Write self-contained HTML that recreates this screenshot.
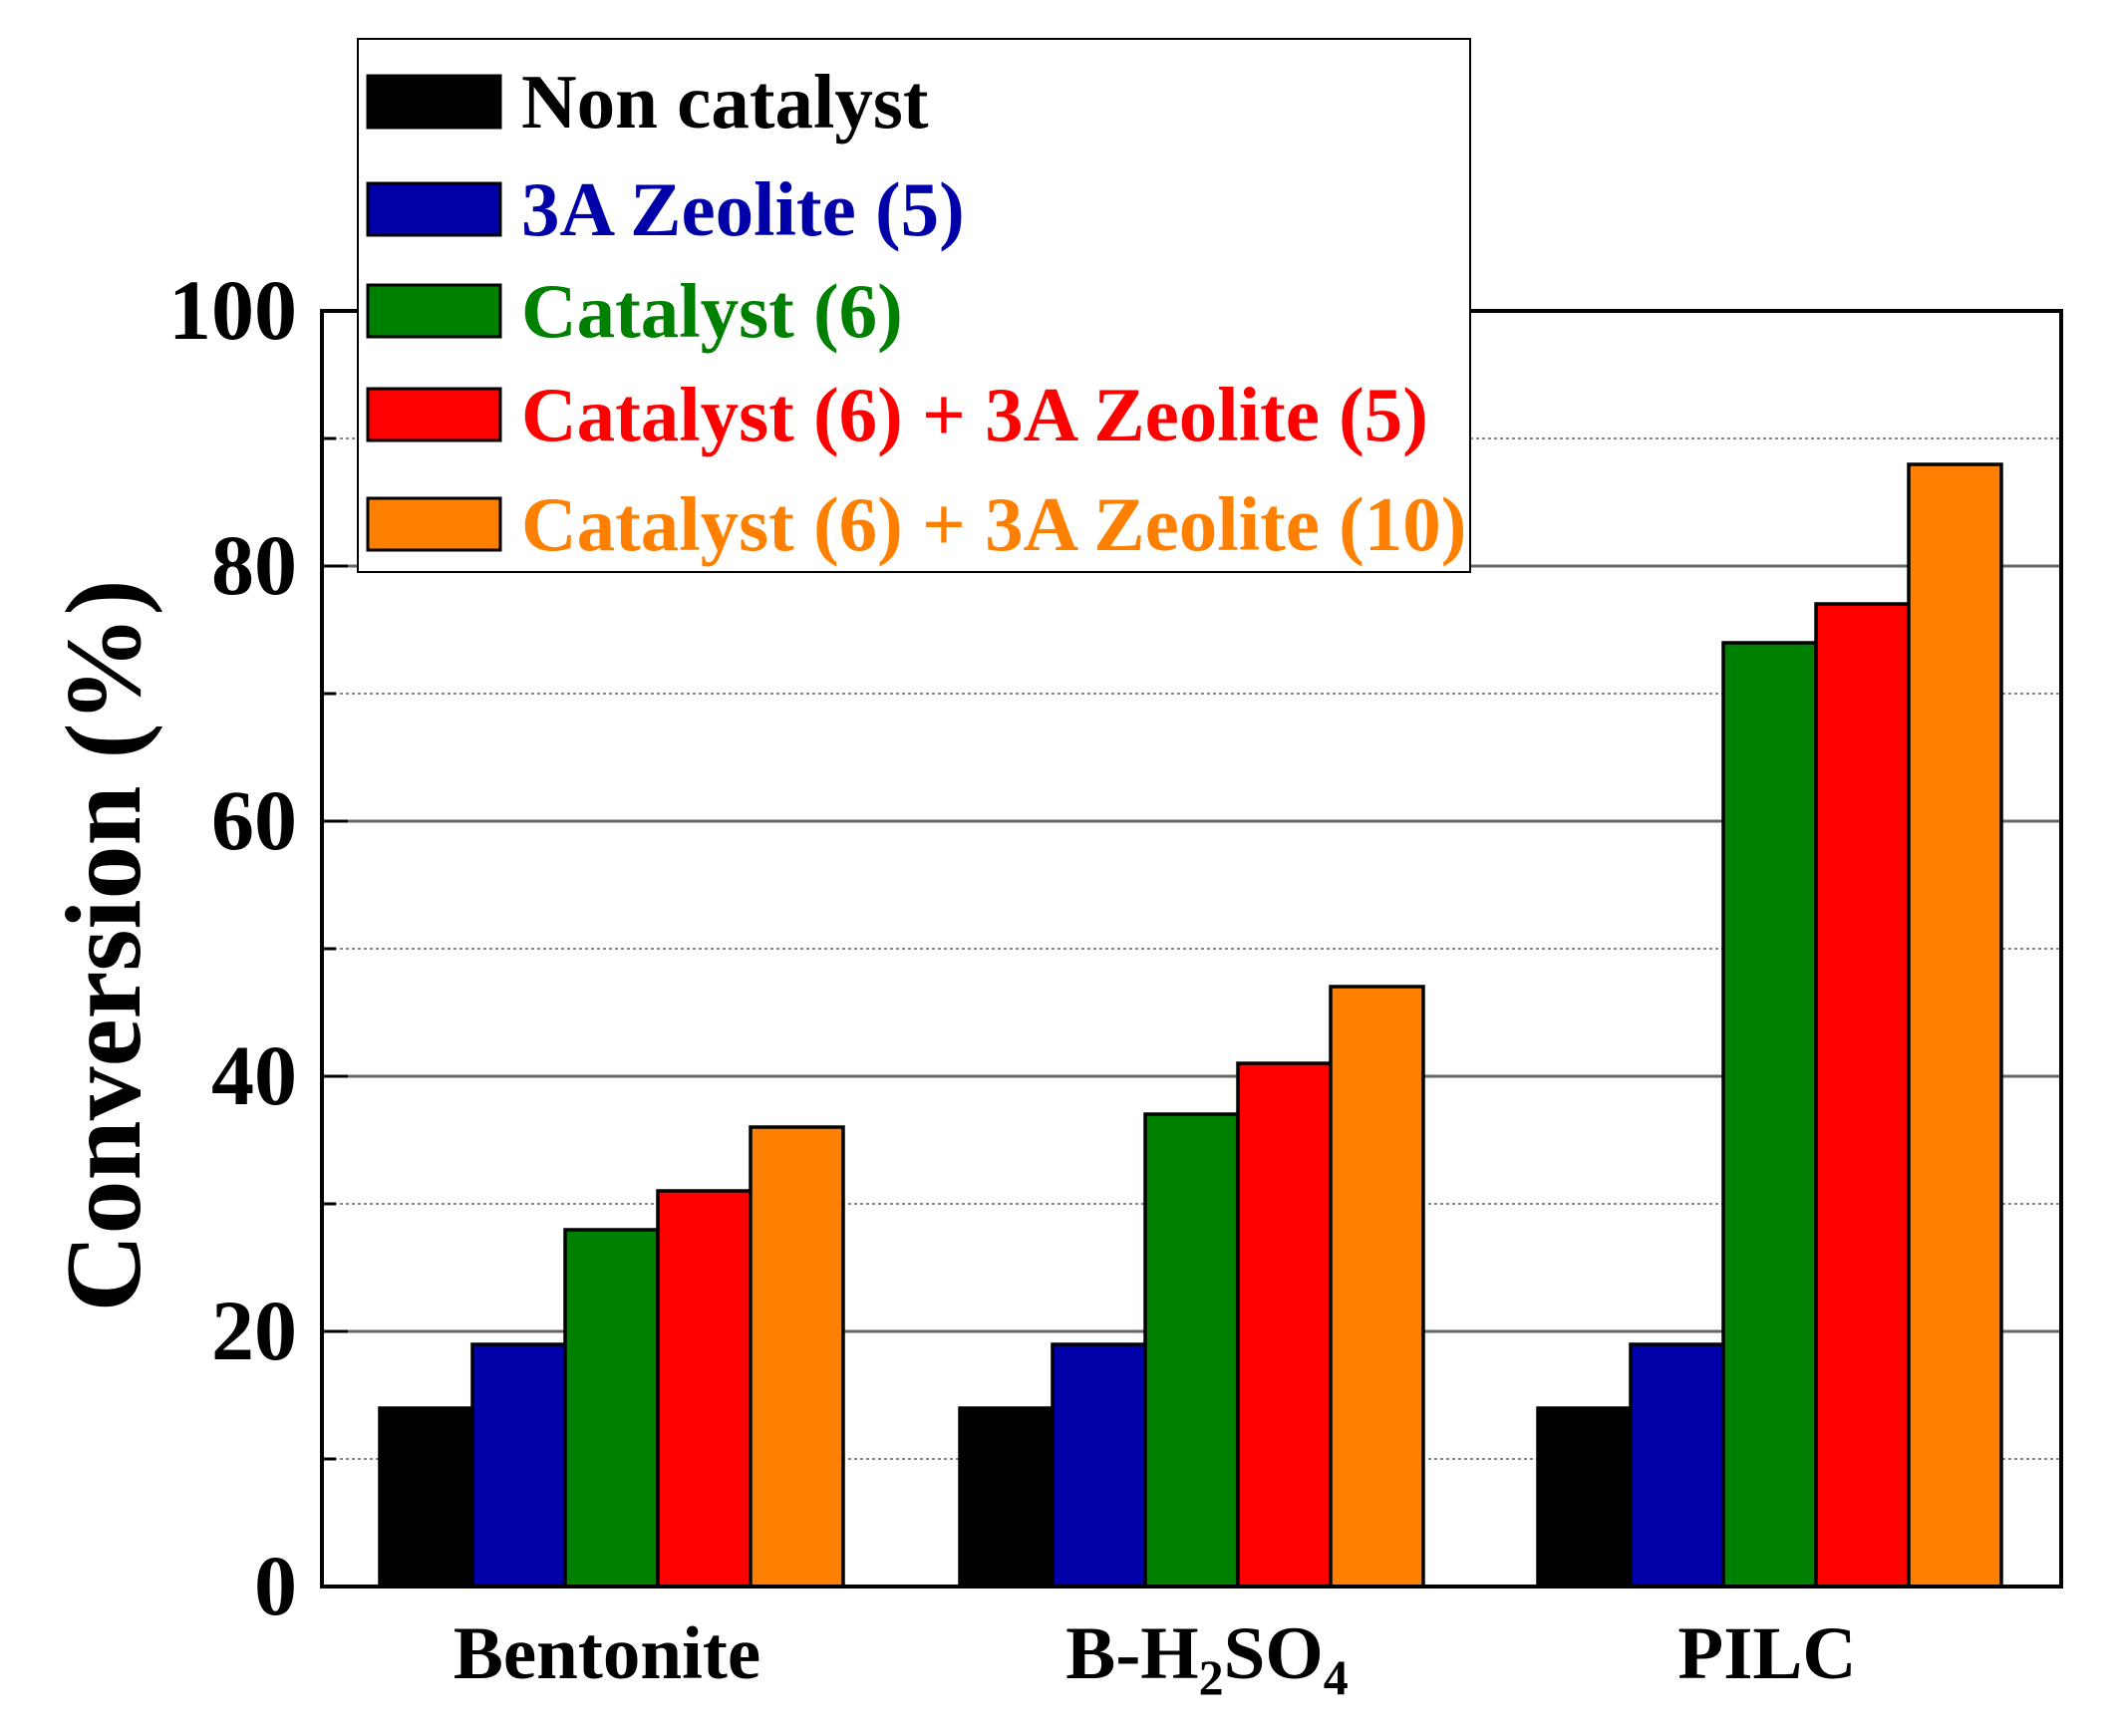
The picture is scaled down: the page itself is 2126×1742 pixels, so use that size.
<!DOCTYPE html>
<html><head><meta charset="utf-8"><style>body{margin:0;background:#fff}</style></head><body>
<svg width="2126" height="1737" xmlns="http://www.w3.org/2000/svg" font-family="Liberation Serif, serif" font-weight="bold">
<rect width="2126" height="1737" fill="#fff"/>
<g stroke="#666" stroke-width="3">
<line x1="323" x2="2068" y1="1336" y2="1336"/><line x1="323" x2="2068" y1="1080" y2="1080"/>
<line x1="323" x2="2068" y1="824" y2="824"/><line x1="323" x2="2068" y1="568" y2="568"/>
</g>
<g stroke="#888" stroke-width="2" stroke-dasharray="3,3">
<line x1="323" x2="2068" y1="1464" y2="1464"/><line x1="323" x2="2068" y1="1208" y2="1208"/>
<line x1="323" x2="2068" y1="952" y2="952"/><line x1="323" x2="2068" y1="696" y2="696"/>
<line x1="323" x2="2068" y1="440" y2="440"/>
</g>
<g stroke="#000" stroke-width="3.5">
<rect x="381" y="1413" width="93" height="179" fill="#000"/>
<rect x="474" y="1349" width="93" height="243" fill="#0000a8"/>
<rect x="567" y="1234" width="93" height="358" fill="#008000"/>
<rect x="660" y="1195" width="93" height="397" fill="#ff0000"/>
<rect x="753" y="1131" width="93" height="461" fill="#ff8000"/>
<rect x="963" y="1413" width="93" height="179" fill="#000"/>
<rect x="1056" y="1349" width="93" height="243" fill="#0000a8"/>
<rect x="1149" y="1118" width="93" height="474" fill="#008000"/>
<rect x="1242" y="1067" width="93" height="525" fill="#ff0000"/>
<rect x="1335" y="990" width="93" height="602" fill="#ff8000"/>
<rect x="1543" y="1413" width="93" height="179" fill="#000"/>
<rect x="1636" y="1349" width="93" height="243" fill="#0000a8"/>
<rect x="1729" y="645" width="93" height="947" fill="#008000"/>
<rect x="1822" y="606" width="93" height="986" fill="#ff0000"/>
<rect x="1915" y="466" width="93" height="1126" fill="#ff8000"/>
</g>
<rect x="323" y="312" width="1745" height="1280" fill="none" stroke="#000" stroke-width="4"/>
<g stroke="#000" stroke-width="3">
<line x1="323" x2="349" y1="1336" y2="1336"/><line x1="323" x2="349" y1="1080" y2="1080"/>
<line x1="323" x2="349" y1="824" y2="824"/><line x1="323" x2="349" y1="568" y2="568"/>
<line x1="323" x2="337" y1="1464" y2="1464"/><line x1="323" x2="337" y1="1208" y2="1208"/>
<line x1="323" x2="337" y1="952" y2="952"/><line x1="323" x2="337" y1="696" y2="696"/><line x1="323" x2="337" y1="440" y2="440"/>
</g>
<g font-size="86" text-anchor="end">
<text x="298" y="1620">0</text><text x="298" y="1364">20</text><text x="298" y="1108">40</text>
<text x="298" y="852">60</text><text x="298" y="596">80</text><text x="298" y="340">100</text>
</g>
<text transform="translate(140,949) rotate(-90)" font-size="108" text-anchor="middle">Conversion (%)</text>
<g font-size="75" text-anchor="middle">
<text x="609" y="1684">Bentonite</text>
<text x="1211" y="1684">B-H<tspan font-size="50" dy="16">2</tspan><tspan dy="-16">SO</tspan><tspan font-size="50" dy="16">4</tspan></text>
<text x="1773" y="1684">PILC</text>
</g>
<rect x="359" y="39" width="1116" height="535" fill="#fff" stroke="#000" stroke-width="2"/>
<g stroke="#000" stroke-width="3">
<rect x="369" y="76" width="133" height="52" fill="#000"/>
<rect x="369" y="184" width="133" height="52" fill="#0000a8"/>
<rect x="369" y="286" width="133" height="52" fill="#008000"/>
<rect x="369" y="390" width="133" height="52" fill="#ff0000"/>
<rect x="369" y="500" width="133" height="52" fill="#ff8000"/>
</g>
<g font-size="77">
<text x="523" y="128" fill="#000">Non catalyst</text>
<text x="523" y="236" fill="#0000a8">3A Zeolite (5)</text>
<text x="523" y="338" fill="#008000">Catalyst (6)</text>
<text x="523" y="442" fill="#ff0000">Catalyst (6) + 3A Zeolite (5)</text>
<text x="523" y="552" fill="#ff8000">Catalyst (6) + 3A Zeolite (10)</text>
</g>
</svg>
</body></html>
